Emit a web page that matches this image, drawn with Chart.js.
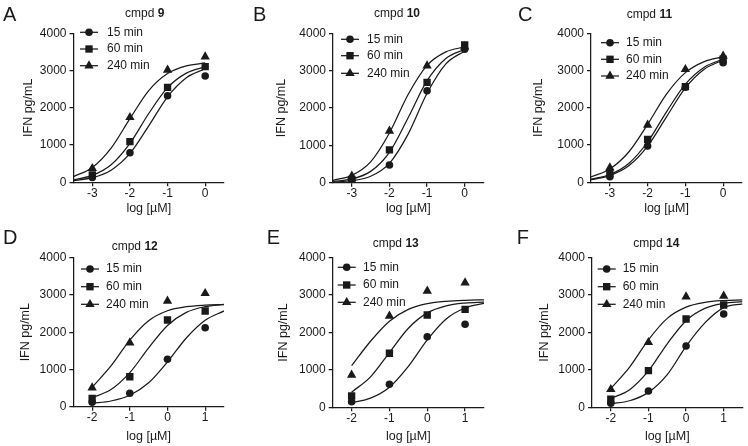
<!DOCTYPE html>
<html><head><meta charset="utf-8">
<script src="https://cdn.jsdelivr.net/npm/chart.js@4/dist/chart.umd.min.js"></script>
<style>
html,body{margin:0;padding:0;background:#fff;width:748px;height:446px;overflow:hidden}
canvas{position:absolute;left:0;top:0}
</style></head><body>
<canvas id="cA" width="748" height="446"></canvas>
<canvas id="cB" width="748" height="446"></canvas>
<canvas id="cC" width="748" height="446"></canvas>
<canvas id="cD" width="748" height="446"></canvas>
<canvas id="cE" width="748" height="446"></canvas>
<canvas id="cF" width="748" height="446"></canvas>
<script>
// ---------- data ----------
const seriesNames = ['15 min', '60 min', '240 min'];
const topDoses = [-3, -2, -1, 0];
const bottomDoses = [-2, -1, 0, 1];
const topCurveX = [-3.5, -3, -2.5, -2, -1.5, -1, -0.5, 0];
const bottomCurveX = [-2, -1.5, -1, -0.5, 0, 0.5, 1, 1.5];
const topXTicks = [-3, -2, -1, 0];
const bottomXTicks = [-2, -1, 0, 1];
const yTicks = [0, 1000, 2000, 3000, 4000];
const yTitle = 'IFN pg/mL';
const xTitle = 'log [µM]';

// cmpd 9
const cmpd9_15 = [130, 795, 2325, 2854];
const cmpd9_60 = [200, 1090, 2550, 3104];
const cmpd9_240 = [375, 1745, 3015, 3372];
const cmpd9_fit15 = [45, 124, 326, 775, 1517, 2296, 2808, 3049];
const cmpd9_fit60 = [68, 184, 469, 1044, 1847, 2540, 2930, 3099];
const cmpd9_fit240 = [153, 398, 918, 1709, 2462, 2919, 3124, 3204];
// cmpd 10
const cmpd10_15 = [70, 472, 2460, 3571];
const cmpd10_60 = [90, 877, 2688, 3687];
const cmpd10_240 = [180, 1384, 3133, 3640];
const cmpd10_fit15 = [16, 53, 172, 519, 1307, 2393, 3181, 3528];
const cmpd10_fit60 = [33, 101, 303, 813, 1744, 2731, 3327, 3573];
const cmpd10_fit240 = [65, 197, 559, 1332, 2368, 3141, 3503, 3635];
// cmpd 11
const cmpd11_15 = [150, 975, 2550, 3211];
const cmpd11_60 = [240, 1154, 2567, 3302];
const cmpd11_240 = [392, 1538, 3033, 3391];
const cmpd11_fit15 = [70, 181, 442, 969, 1758, 2535, 3037, 3283];
const cmpd11_fit60 = [82, 209, 506, 1082, 1893, 2636, 3091, 3306];
const cmpd11_fit240 = [144, 359, 814, 1557, 2368, 2944, 3241, 3368];
// cmpd 12
const cmpd12_15 = [118, 360, 1272, 2121];
const cmpd12_60 = [225, 805, 2327, 2569];
const cmpd12_240 = [510, 1718, 2837, 3044];
const cmpd12_fit15 = [90, 153, 307, 641, 1203, 1845, 2320, 2571];
const cmpd12_fit60 = [240, 459, 914, 1578, 2181, 2532, 2686, 2746];
const cmpd12_fit240 = [522, 1094, 1789, 2310, 2576, 2686, 2727, 2742];
// cmpd 13
const cmpd13_15 = [150, 615, 1888, 2219];
const cmpd13_60 = [302, 1444, 2468, 2620];
const cmpd13_240 = [864, 2441, 3110, 3332];
const cmpd13_fit15 = [123, 245, 538, 1095, 1804, 2362, 2655, 2777];
const cmpd13_fit60 = [405, 815, 1465, 2115, 2525, 2713, 2788, 2815];
const cmpd13_fit240 = [1114, 1766, 2302, 2618, 2770, 2835, 2862, 2873];
// cmpd 14
const cmpd14_15 = [107, 436, 1639, 2494];
const cmpd14_60 = [214, 979, 2361, 2735];
const cmpd14_240 = [481, 1738, 2957, 2976];
const cmpd14_fit15 = [94, 175, 399, 874, 1630, 2256, 2664, 2768];
const cmpd14_fit60 = [236, 471, 973, 1699, 2316, 2644, 2777, 2825];
const cmpd14_fit240 = [502, 1075, 1805, 2378, 2679, 2805, 2853, 2870];

// ---------- styles / layout ----------
const FONT = "'Liberation Sans', Arial, Helvetica, sans-serif";
const INK = '#1a1a1a';
const markerStyles = [
  {pointStyle: 'circle', radius: 3.8},
  {pointStyle: 'rect', radius: 5.2},
  {pointStyle: 'triangle', radius: 5.4}
];
Chart.defaults.font.family = FONT;
Chart.defaults.color = INK;

const panels = [
  {canvas: 'cA', letter: 'A', num: '9', pts: [cmpd9_15, cmpd9_60, cmpd9_240], fits: [cmpd9_fit15, cmpd9_fit60, cmpd9_fit240],
   doses: topDoses, curveX: topCurveX, xTicks: topXTicks, xMin: -3.5, xMax: 0.5,
   plot: {L: 73.5, T: 33.3, R: 224, B: 182.3}, yTitleX: 28.3, xTitleY: 208.3,
   letterPos: {x: 3, y: 20.5}, titlePos: {x: 125, y: 13.3}, legend: {mx: 89, tx: 107, ys: [32.3, 49, 65.7]}},
  {canvas: 'cB', letter: 'B', num: '10', pts: [cmpd10_15, cmpd10_60, cmpd10_240], fits: [cmpd10_fit15, cmpd10_fit60, cmpd10_fit240],
   doses: topDoses, curveX: topCurveX, xTicks: topXTicks, xMin: -3.5, xMax: 0.5,
   plot: {L: 333, T: 33.3, R: 483.5, B: 182.7}, yTitleX: 282, xTitleY: 208.3,
   letterPos: {x: 253, y: 20.5}, titlePos: {x: 374, y: 13.3}, legend: {mx: 350, tx: 367, ys: [39.3, 55.7, 73.3]}},
  {canvas: 'cC', letter: 'C', num: '11', pts: [cmpd11_15, cmpd11_60, cmpd11_240], fits: [cmpd11_fit15, cmpd11_fit60, cmpd11_fit240],
   doses: topDoses, curveX: topCurveX, xTicks: topXTicks, xMin: -3.5, xMax: 0.5,
   plot: {L: 591, T: 33.3, R: 742, B: 182.3}, yTitleX: 538.5, xTitleY: 208.3,
   letterPos: {x: 518, y: 20.5}, titlePos: {x: 626.7, y: 15}, legend: {mx: 610, tx: 626, ys: [42.7, 59.3, 76]}},
  {canvas: 'cD', letter: 'D', num: '12', pts: [cmpd12_15, cmpd12_60, cmpd12_240], fits: [cmpd12_fit15, cmpd12_fit60, cmpd12_fit240],
   doses: bottomDoses, curveX: bottomCurveX, xTicks: bottomXTicks, xMin: -2.5, xMax: 1.5,
   plot: {L: 73.3, T: 257.7, R: 224, B: 406.7}, yTitleX: 26, xTitleY: 436.7,
   letterPos: {x: 3, y: 243.5}, titlePos: {x: 111.7, y: 246.7}, legend: {mx: 90, tx: 106, ys: [269, 286.7, 304.3]}},
  {canvas: 'cE', letter: 'E', num: '13', pts: [cmpd13_15, cmpd13_60, cmpd13_240], fits: [cmpd13_fit15, cmpd13_fit60, cmpd13_fit240],
   doses: bottomDoses, curveX: bottomCurveX, xTicks: bottomXTicks, xMin: -2.5, xMax: 1.5,
   plot: {L: 332.7, T: 257.7, R: 484, B: 407.3}, yTitleX: 283.5, xTitleY: 436.7,
   letterPos: {x: 266.7, y: 243.5}, titlePos: {x: 372.7, y: 243.3}, legend: {mx: 346.7, tx: 363, ys: [267.3, 285, 302.3]}},
  {canvas: 'cF', letter: 'F', num: '14', pts: [cmpd14_15, cmpd14_60, cmpd14_240], fits: [cmpd14_fit15, cmpd14_fit60, cmpd14_fit240],
   doses: bottomDoses, curveX: bottomCurveX, xTicks: bottomXTicks, xMin: -2.5, xMax: 1.5,
   plot: {L: 592, T: 257.7, R: 742.5, B: 407.3}, yTitleX: 544.5, xTitleY: 436.7,
   letterPos: {x: 516.7, y: 243.5}, titlePos: {x: 633.3, y: 244}, legend: {mx: 606.7, tx: 622.7, ys: [269, 286.7, 304.3]}}
];

function drawMarker(ctx, style, r, x, y) {
  ctx.beginPath();
  if (style === 'circle') {
    ctx.arc(x, y, r, 0, Math.PI * 2);
  } else if (style === 'rect') {
    const s = Math.SQRT1_2 * r;
    ctx.rect(x - s, y - s, 2 * s, 2 * s);
  } else {
    let a = 0;
    ctx.moveTo(x + Math.sin(a) * r, y - Math.cos(a) * r);
    a += 2 * Math.PI / 3;
    ctx.lineTo(x + Math.sin(a) * r, y - Math.cos(a) * r);
    a += 2 * Math.PI / 3;
    ctx.lineTo(x + Math.sin(a) * r, y - Math.cos(a) * r);
    ctx.closePath();
  }
  ctx.fill();
}

const TITLE_FS = 12.5, TITLE_LH = TITLE_FS * 1.2;

panels.forEach(p => {
  const datasets = [];
  p.fits.forEach((fit, i) => {
    datasets.push({
      label: seriesNames[i] + ' fit',
      data: p.curveX.map((x, j) => ({x: x, y: fit[j]})),
      showLine: true, pointRadius: 0, borderColor: INK, borderWidth: 1.25,
      cubicInterpolationMode: 'monotone', fill: false, order: 2
    });
  });
  p.pts.forEach((vals, i) => {
    datasets.push({
      label: seriesNames[i],
      data: p.doses.map((x, j) => ({x: x, y: vals[j]})),
      showLine: false, pointStyle: markerStyles[i].pointStyle, pointRadius: markerStyles[i].radius,
      pointBackgroundColor: INK, pointBorderColor: INK, pointBorderWidth: 0, order: 1
    });
  });

  const padLeft = p.yTitleX - TITLE_LH / 2;
  const xScaleBottom = p.xTitleY + TITLE_LH / 2;
  const yW = p.plot.L - padLeft;
  const xH = xScaleBottom - p.plot.B;

  const decor = {
    id: 'decor' + p.letter,
    afterDraw(chart) {
      const ctx = chart.ctx;
      ctx.save();
      ctx.fillStyle = INK;
      // panel letter
      ctx.font = '20px ' + FONT;
      ctx.textBaseline = 'alphabetic';
      ctx.textAlign = 'left';
      ctx.fillText(p.letter, p.letterPos.x, p.letterPos.y);
      // title
      ctx.textBaseline = 'middle';
      ctx.font = '12px ' + FONT;
      const pre = 'cmpd ';
      ctx.fillText(pre, p.titlePos.x, p.titlePos.y);
      const w = ctx.measureText(pre).width;
      ctx.font = 'bold 12px ' + FONT;
      ctx.fillText(p.num, p.titlePos.x + w, p.titlePos.y);
      // legend
      ctx.font = '12px ' + FONT;
      ctx.strokeStyle = INK;
      ctx.lineWidth = 1.25;
      seriesNames.forEach((name, i) => {
        const y = p.legend.ys[i];
        ctx.beginPath();
        ctx.moveTo(p.legend.mx - 9, y);
        ctx.lineTo(p.legend.mx + 9, y);
        ctx.stroke();
        drawMarker(ctx, markerStyles[i].pointStyle, markerStyles[i].radius, p.legend.mx, y);
        ctx.fillText(name, p.legend.tx, y);
      });
      ctx.restore();
    }
  };

  new Chart(document.getElementById(p.canvas), {
    type: 'scatter',
    data: {datasets: datasets},
    options: {
      responsive: false, animation: false, devicePixelRatio: 1,
      layout: {padding: {left: padLeft, top: p.plot.T, right: 748 - p.plot.R, bottom: 446 - xScaleBottom}},
      plugins: {legend: {display: false}, tooltip: {enabled: false}, title: {display: false}},
      scales: {
        x: {
          type: 'linear', min: p.xMin, max: p.xMax,
          afterBuildTicks: s => { s.ticks = p.xTicks.map(v => ({value: v})); },
          afterFit: s => { s.height = xH; },
          grid: {display: true, drawOnChartArea: false, drawTicks: true, tickLength: 4, color: INK, lineWidth: 1.25},
          border: {display: true, color: INK, width: 1.25},
          ticks: {padding: 0, font: {size: 12}, color: INK, autoSkip: false, maxRotation: 0, callback: v => String(v)},
          title: {display: true, text: xTitle, font: {size: TITLE_FS}, color: INK, padding: 0}
        },
        y: {
          type: 'linear', min: 0, max: 4000,
          afterBuildTicks: s => { s.ticks = yTicks.map(v => ({value: v})); },
          afterFit: s => { s.width = yW; },
          grid: {display: true, drawOnChartArea: false, drawTicks: true, tickLength: 4, color: INK, lineWidth: 1.25},
          border: {display: true, color: INK, width: 1.25},
          ticks: {padding: 3, font: {size: 12}, color: INK, autoSkip: false, callback: v => String(v)},
          title: {display: true, text: yTitle, font: {size: TITLE_FS}, color: INK, padding: 0}
        }
      }
    },
    plugins: [decor]
  });
});
</script>
</body></html>
